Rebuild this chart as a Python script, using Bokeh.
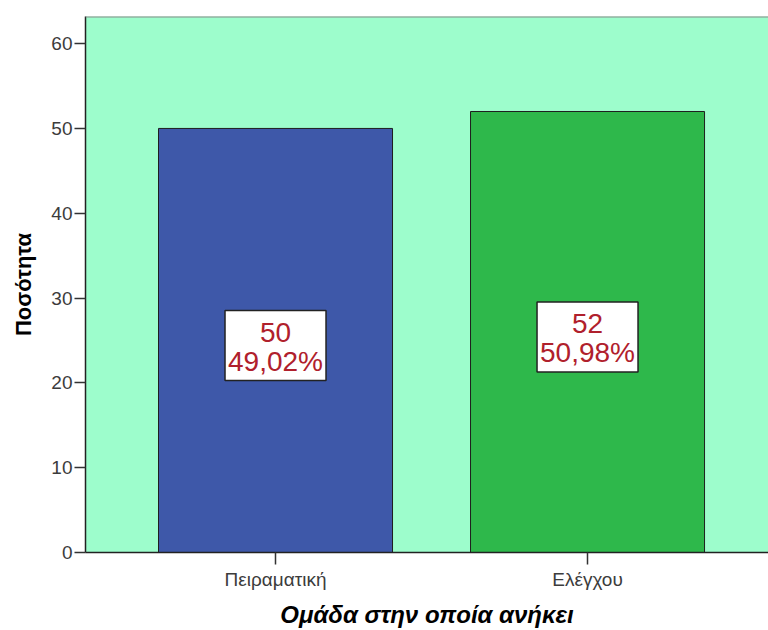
from bokeh.plotting import figure
from bokeh.models import ColumnDataSource, Range1d, FixedTicker, Span
from bokeh.core.properties import value
from bokeh.embed import file_html
from bokeh.resources import INLINE

# Group sizes
groups = ["Πειραματική", "Ελέγχου"]
counts = [50, 52]
percents = ["49,02%", "50,98%"]
bar_colors = ["#3e58a9", "#2eb84b"]
y_ticks = [0, 10, 20, 30, 40, 50, 60]

FONT = "Liberation Sans"
xs = list(range(len(groups)))
mid = [c / 2 for c in counts]
box_y = [m - 0.6 for m in mid]

src = ColumnDataSource(dict(
    x=xs, top=counts, color=bar_colors, mid=mid, box_y=box_y,
    count_txt=[str(c) for c in counts], pct_txt=percents,
))

p = figure(
    width=768, height=630,
    x_range=Range1d(-0.609, 1.58), y_range=Range1d(0, 63.2),
    output_backend="svg", toolbar_location=None,
    min_border_left=85, min_border_right=0, min_border_top=16, min_border_bottom=78,
)
p.background_fill_color = "#9dfdcc"
p.border_fill_color = "white"
p.outline_line_color = None
p.grid.visible = False

# top edge of the plotting frame
p.add_layout(Span(location=63.2, dimension="width", line_color="#8a8a8a", line_width=2))

p.vbar(x="x", top="top", bottom=0, width=0.75, fill_color="color",
       line_color="#1e1e1e", line_width=1, source=src)

# value boxes inside each bar
p.rect(x="x", y="box_y", width=101, height=70, width_units="screen", height_units="screen",
       fill_color="white", line_color="#222222", line_width=1.5, source=src)
p.text(x="x", y="mid", text="count_txt", y_offset=-8, text_align="center",
       text_baseline="middle", text_font=value(FONT), text_font_size="28px",
       text_color="#b0202c", source=src)
p.text(x="x", y="mid", text="pct_txt", y_offset=21, text_align="center",
       text_baseline="middle", text_font=value(FONT), text_font_size="28px",
       text_color="#b0202c", source=src)

# y axis
ya = p.yaxis[0]
ya.ticker = FixedTicker(ticks=y_ticks)
ya.minor_tick_line_color = None
ya.major_tick_in = 0
ya.major_tick_out = 11
ya.major_tick_line_color = "#333333"
ya.major_tick_line_width = 1.5
ya.axis_line_color = "#222222"
ya.axis_line_width = 1.5
ya.major_label_text_font = FONT
ya.major_label_text_font_size = "19px"
ya.major_label_text_color = "#3c3c3c"
ya.major_label_standoff = 2
ya.axis_label = "Ποσότητα"
ya.axis_label_text_font = FONT
ya.axis_label_text_font_style = "bold"
ya.axis_label_text_font_size = "22px"
ya.axis_label_text_color = "black"
ya.axis_label_standoff = 12

# x axis
xa = p.xaxis[0]
xa.ticker = FixedTicker(ticks=xs)
xa.major_label_overrides = {i: g for i, g in enumerate(groups)}
xa.minor_tick_line_color = None
xa.major_tick_in = 0
xa.major_tick_out = 12
xa.major_tick_line_color = "#333333"
xa.major_tick_line_width = 1.5
xa.axis_line_color = "#222222"
xa.axis_line_width = 1.5
xa.major_label_text_font = FONT
xa.major_label_text_font_size = "19px"
xa.major_label_text_color = "#3c3c3c"
xa.major_label_standoff = 4
xa.axis_label = "Ομάδα στην οποία ανήκει"
xa.axis_label_text_font = FONT
xa.axis_label_text_font_style = "bold italic"
xa.axis_label_text_font_size = "24px"
xa.axis_label_text_color = "black"
xa.axis_label_standoff = 8

open("out.html", "w").write(file_html(p, INLINE))
